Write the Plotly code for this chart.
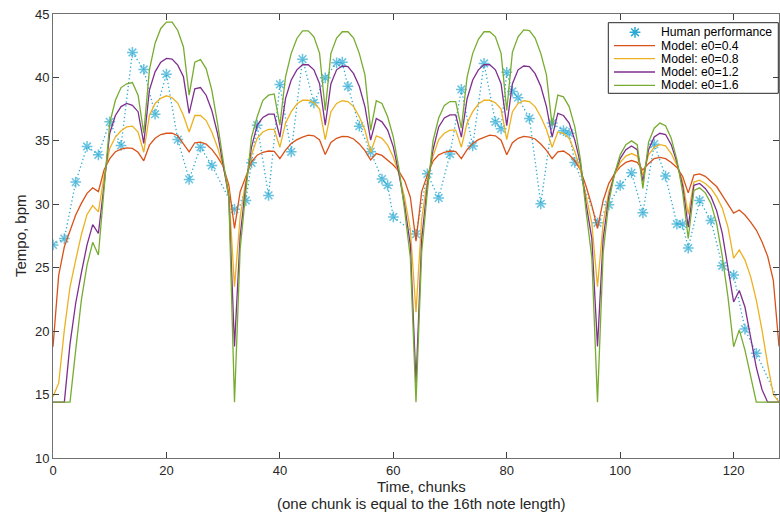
import plotly.graph_objects as go

# ---------------- data ----------------
chunks = list(range(129))

model_e04 = [18.77, 24.4, 26.65, 27.97, 29.15, 30.07, 30.86, 31.3, 31.0, 32.7,
             33.6, 34.14, 34.35, 34.45, 34.4, 34.1, 33.43, 34.66, 35.2, 35.5,
             35.6, 35.6, 35.4, 34.76, 34.14, 34.85, 34.9, 34.74, 34.33, 33.74,
             33.0, 31.5, 28.1, 31.0, 32.2, 33.35, 33.87, 34.1, 34.2, 34.17,
             33.6, 34.27, 34.8, 35.1, 35.3, 35.45, 35.4, 35.07, 33.93, 34.87,
             35.2, 35.36, 35.33, 35.15, 34.76, 34.23, 33.5, 34.0, 33.85, 33.5,
             33.1, 32.6, 31.85, 30.56, 27.1, 31.0, 32.3, 33.4, 33.9, 34.1,
             34.2, 34.15, 33.6, 34.3, 34.8, 35.1, 35.3, 35.45, 35.4, 35.05,
             33.9, 34.85, 35.2, 35.35, 35.3, 35.15, 34.75, 34.25, 33.6, 34.14,
             34.2, 33.9, 33.43, 32.7, 31.4, 29.9, 28.1, 30.3, 31.65, 32.4,
             32.95, 33.3, 33.45, 33.3, 32.7, 33.2, 33.6, 33.7, 33.6, 33.3,
             32.9, 32.2, 30.9, 32.3, 32.4, 32.2, 31.8, 31.4, 30.7, 30.0,
             29.3, 29.55, 29.15, 28.6, 27.97, 27.05, 25.9, 24.0, 18.8]

model_e08 = [14.83, 15.9, 20.1, 23.5, 25.6, 27.6, 29.2, 29.9, 29.4, 32.2,
             34.4, 35.3, 35.8, 36.1, 36.16, 35.7, 34.1, 37.0, 37.95, 38.35,
             38.55, 38.4, 37.98, 37.0, 35.7, 37.0, 37.0, 36.6, 35.7, 34.5,
             33.0, 31.0, 23.5, 29.0, 31.9, 33.9, 35.2, 35.7, 35.9, 35.9,
             34.5, 36.4, 37.3, 37.9, 38.2, 38.2, 38.0, 37.5, 35.1, 37.3,
             37.95, 38.16, 38.1, 37.7, 36.9, 35.85, 34.1, 35.4, 35.2, 34.66,
             33.7, 32.4, 30.5, 28.0, 21.5, 28.8, 31.9, 33.8, 35.1, 35.6,
             35.85, 35.85, 34.5, 36.4, 37.3, 37.9, 38.2, 38.2, 38.0, 37.5,
             35.1, 37.3, 37.95, 38.16, 38.1, 37.7, 36.9, 35.9, 34.5, 35.7,
             35.6, 35.2, 34.14, 32.7, 30.6, 28.5, 23.5, 28.5, 31.0, 32.3,
             33.3, 33.8, 34.0, 33.8, 32.3, 33.9, 34.5, 34.7, 34.6, 34.0,
             33.1, 31.8, 29.2, 31.75, 31.9, 31.64, 31.25, 30.6, 29.7, 28.2,
             25.75, 26.4, 25.6, 24.3, 22.45, 20.1, 17.4, 15.0, 14.4]

model_e12 = [14.4, 14.4, 14.4, 19.0, 22.2, 24.6, 26.8, 28.4, 27.7, 31.5,
             35.6, 37.0, 37.7, 37.95, 37.8, 37.3, 34.8, 39.0, 40.44, 41.2,
             41.5, 41.45, 40.97, 40.05, 37.16, 39.1, 39.2, 38.6, 37.4, 35.6,
             33.2, 30.6, 18.8, 27.5, 31.5, 34.5, 36.24, 36.85, 37.1, 37.1,
             35.3, 38.35, 39.8, 40.6, 41.0, 41.0, 40.6, 39.5, 36.24, 39.5,
             40.6, 40.9, 40.85, 40.3, 39.3, 37.7, 35.06, 36.76, 36.5, 35.85,
             34.53, 32.4, 29.9, 26.8, 15.9, 27.2, 31.5, 34.3, 36.1, 36.8,
             37.05, 37.05, 35.3, 38.3, 39.8, 40.6, 41.0, 41.0, 40.6, 39.5,
             36.2, 39.5, 40.6, 40.9, 40.85, 40.3, 39.3, 37.7, 35.3, 37.16,
             37.0, 36.4, 35.06, 33.2, 30.0, 27.3, 18.8, 27.3, 30.6, 32.4,
             33.6, 34.3, 34.6, 34.3, 31.8, 34.3, 35.3, 35.6, 35.5, 34.7,
             33.3, 31.5, 28.2, 31.5, 31.64, 31.25, 30.6, 29.5, 27.7, 25.1,
             22.3, 23.2, 21.9, 19.5, 17.15, 15.4, 14.4, 14.4, 14.4]

model_e16 = [14.4, 14.4, 14.4, 14.4, 18.5, 22.45, 25.2, 27.0, 26.0, 31.0,
             36.4, 38.2, 39.2, 39.5, 39.6, 38.6, 35.6, 40.6, 42.7, 43.86,
             44.36, 44.36, 43.7, 42.4, 38.6, 41.2, 41.4, 40.7, 39.0, 36.4,
             33.5, 30.5, 14.4, 26.5, 31.0, 35.3, 36.9, 38.2, 38.6, 38.7,
             36.24, 40.05, 41.9, 43.07, 43.67, 43.67, 43.2, 41.9, 37.4, 41.9,
             43.1, 43.6, 43.6, 43.1, 41.9, 40.2, 35.85, 38.16, 37.95, 36.9,
             35.3, 32.8, 29.5, 25.8, 14.4, 26.2, 31.0, 35.0, 36.8, 37.8,
             38.1, 38.1, 36.0, 40.0, 41.9, 43.0, 43.6, 43.6, 43.2, 41.9,
             37.4, 42.0, 43.2, 43.75, 43.7, 43.1, 41.9, 40.2, 36.2, 38.6,
             38.47, 37.7, 36.1, 33.5, 29.4, 25.8, 14.4, 26.2, 30.2, 32.4,
             33.9, 34.7, 35.0, 34.7, 31.25, 34.9, 36.0, 36.4, 36.2, 35.2,
             33.5, 31.0, 27.3, 31.1, 31.3, 30.9, 30.07, 28.5, 25.9, 22.7,
             18.77, 20.1, 18.5, 16.4, 14.4, 14.4, 14.4, 14.4, 14.4]

human_t = [0, 2, 4, 6, 8, 10, 12, 14, 16, 18, 20, 22, 24, 26, 28,
           32, 34, 35, 36, 38, 40, 42, 44, 46, 48, 50, 51, 52, 54, 56, 58, 59, 60,
           64, 66, 68, 70, 72, 74, 76, 78, 79, 80, 81, 82, 84, 86, 88, 90, 91, 92,
           96, 98, 100, 102, 104, 106, 108, 110, 111, 112, 114, 116, 118, 120,
           122, 124, 128]
human_v = [26.8, 27.3, 31.75, 34.56, 33.9, 36.5, 34.64, 41.97, 40.63, 37.1,
           40.26, 35.1, 31.96, 34.5, 33.06,
           29.6, 30.3, 33.27, 36.24, 30.7, 39.45, 34.14, 41.44, 38.0, 39.97,
           41.15, 41.2, 39.3, 36.16, 34.14, 31.99, 31.5, 29.0,
           27.65, 32.4, 30.5, 33.96, 39.05, 34.6, 41.1, 36.5, 35.95, 40.4,
           38.9, 38.4, 36.77, 30.04, 36.4, 35.8, 35.6, 33.3,
           28.54, 29.96, 31.49, 32.48, 29.33, 34.74, 32.22, 28.44, 28.44,
           26.55, 30.3, 28.73, 25.15, 24.42, 20.16, 18.25, 14.4]

legend_labels = ["Human performance", "Model: e0=0.4", "Model: e0=0.8",
                 "Model: e0=1.2", "Model: e0=1.6"]
x_ticks = [0, 20, 40, 60, 80, 100, 120]
y_ticks = [10, 15, 20, 25, 30, 35, 40, 45]

# ---------------- styling ----------------
CYAN = "#2AA9D3"
COLORS = ["#D95319", "#EDB120", "#7E2F8E", "#77AC30"]
FONT = "Liberation Sans, Arial, Helvetica, sans-serif"
TXT = "#262626"

# plot area in pixels (for the hand-drawn legend)
L, R, T, B = 53, 779, 14, 458
def px(x):
    return (x - L) / (R - L)
def py(y):
    return (B - y) / (B - T)

STAR = dict(symbol="asterisk-open", color=CYAN, line=dict(color=CYAN, width=1.5))

fig = go.Figure()

# human performance: dotted line + asterisks
fig.add_trace(go.Scatter(x=human_t, y=human_v, mode="lines",
                         line=dict(color=CYAN, width=1.3, dash="1.3px,2.6px"),
                         showlegend=False, hoverinfo="skip"))
msizes = [9] * (len(human_t) - 1) + [0]
fig.add_trace(go.Scatter(x=human_t, y=human_v, mode="markers",
                         marker=dict(size=msizes, **STAR),
                         showlegend=False, name=legend_labels[0]))

for vals, col, name in zip([model_e04, model_e08, model_e12, model_e16],
                           COLORS, legend_labels[1:]):
    fig.add_trace(go.Scatter(x=chunks, y=vals, mode="lines",
                             line=dict(color=col, width=1.3),
                             showlegend=False, name=name))

# legend key star on an invisible overlay axis (0..1 over the plot area)
leg_rows = [32.3, 45.7, 58.7, 72.0, 85.3]
fig.add_trace(go.Scatter(x=[px(635)], y=[py(leg_rows[0])], xaxis="x2", yaxis="y2",
                         mode="markers", showlegend=False, hoverinfo="skip",
                         marker=dict(size=9, **STAR)))

shapes = [dict(type="rect", xref="paper", yref="paper",
               x0=px(608.3), x1=px(778.3), y0=py(93.3), y1=py(22.7),
               line=dict(color=TXT, width=1), fillcolor="white", layer="below")]
annotations = []
for i, lab in enumerate(legend_labels):
    annotations.append(dict(x=px(659), y=py(leg_rows[i]), xref="paper", yref="paper",
                            text=lab, showarrow=False, xanchor="left", yanchor="middle",
                            font=dict(size=12.2, color="#000000", family=FONT)))
    if i > 0:
        shapes.append(dict(type="line", xref="paper", yref="paper",
                           x0=px(614), x1=px(655), y0=py(leg_rows[i]), y1=py(leg_rows[i]),
                           line=dict(color=COLORS[i - 1], width=1.3), layer="above"))

# axis titles
annotations.append(dict(x=px(421), y=py(486.5), xref="paper", yref="paper",
                        text="Time, chunks", showarrow=False, xanchor="center",
                        yanchor="middle", font=dict(size=15, color=TXT, family=FONT)))
annotations.append(dict(x=px(421), y=py(503.5), xref="paper", yref="paper",
                        text="(one chunk is equal to the 16th note length)",
                        showarrow=False, xanchor="center", yanchor="middle",
                        font=dict(size=15, color=TXT, family=FONT)))
annotations.append(dict(x=px(20), y=0.5, xref="paper", yref="paper",
                        text="Tempo, bpm", showarrow=False, textangle=-90,
                        xanchor="center", yanchor="middle",
                        font=dict(size=15, color=TXT, family=FONT)))

axis_common = dict(showgrid=False, zeroline=False, showline=True, linecolor="#707070",
                   linewidth=1, mirror="ticks", ticks="inside", ticklen=6,
                   tickcolor="#404040", tickwidth=1,
                   tickfont=dict(size=13, color=TXT, family=FONT))

fig.update_layout(
    width=780, height=512,
    margin=dict(l=L, r=780 - R, t=T, b=512 - B, pad=0),
    paper_bgcolor="white", plot_bgcolor="white",
    font=dict(family=FONT, color=TXT),
    showlegend=False,
    xaxis=dict(range=[0, 128], tickvals=x_ticks, **axis_common),
    yaxis=dict(range=[10, 45], tickvals=y_ticks, **axis_common),
    xaxis2=dict(range=[0, 1], overlaying="x", visible=False),
    yaxis2=dict(range=[0, 1], overlaying="y", visible=False),
    shapes=shapes, annotations=annotations,
)

fig.write_html("out.html")
